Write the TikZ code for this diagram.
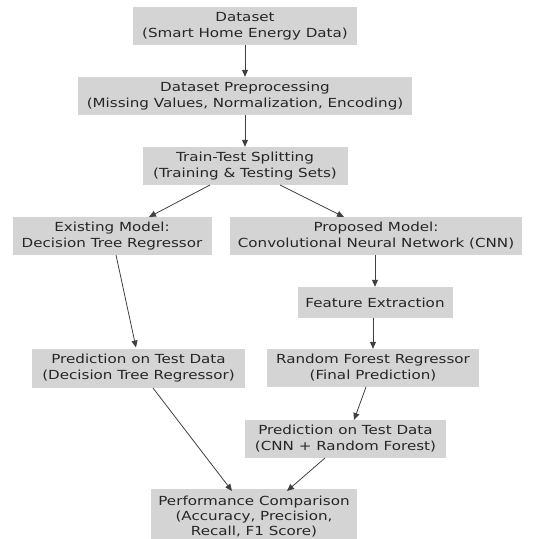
\documentclass[tikz,border=0pt]{standalone}
\usepackage{fontspec}
\setmainfont[FakeStretch=1.21]{DejaVu Sans}
\usetikzlibrary{arrows.meta}
\begin{document}
\begin{tikzpicture}[x=1pt,y=-1pt,
  box/.style={fill=black!17, draw=none, inner sep=0pt, align=center,
    font=\fontsize{12.5}{16}\selectfont, text=black!85},
  arr/.style={-{Triangle[length=7pt,width=6pt]}, line width=0.8pt, draw=black!75}]
\useasboundingbox (0,0) rectangle (542,539);
\begin{scope}
\clip (0,0) rectangle (542,539);
\node[box, minimum width=224pt, minimum height=38pt] (ds) at (245,26) {Dataset\\(Smart Home Energy Data)};
\node[box, minimum width=334pt, minimum height=38pt] (pre) at (245,96) {Dataset Preprocessing\\(Missing Values, Normalization, Encoding)};
\node[box, minimum width=205pt, minimum height=38pt] (tt) at (245,166) {Train-Test Splitting\\(Training \& Testing Sets)};
\node[box, minimum width=199pt, minimum height=38pt] (ex) at (112,236) {Existing Model:\\Decision Tree Regressor};
\node[box, minimum width=292pt, minimum height=38pt] (pr) at (376,236) {Proposed Model:\\Convolutional Neural Network (CNN)};
\node[box, minimum width=155pt, minimum height=31pt] (fe) at (375,302.5) {Feature Extraction};
\node[box, minimum width=213pt, minimum height=39pt] (pdt) at (138.5,368) {Prediction on Test Data\\(Decision Tree Regressor)};
\node[box, minimum width=212pt, minimum height=38pt] (rf) at (373,368) {Random Forest Regressor\\(Final Prediction)};
\node[box, minimum width=201pt, minimum height=38pt] (pcnn) at (345.5,439) {Prediction on Test Data\\(CNN + Random Forest)};
\node[box, minimum width=206pt, minimum height=56pt, font=\fontsize{12.5}{15}\selectfont] (perf) at (254,517) {Performance Comparison\\(Accuracy, Precision,\\Recall, F1 Score)};
\end{scope}
\coordinate (a1) at (210,185); \coordinate (a2) at (149,217);
\coordinate (b1) at (280,185); \coordinate (b2) at (344,217);
\coordinate (c1) at (116,255); \coordinate (c2) at (136,347.5);
\coordinate (d1) at (153,388); \coordinate (d2) at (232,491);
\coordinate (e1) at (366,387); \coordinate (e2) at (354,420);
\coordinate (f1) at (325,458); \coordinate (f2) at (287,491);
\draw[arr] (ds) -- (pre);
\draw[arr] (pre) -- (tt);
\draw[arr] (a1) -- (a2);
\draw[arr] (b1) -- (b2);
\draw[arr] (c1) -- (c2);
\draw[arr] (pr.south -| fe.north) -- (fe.north);
\draw[arr] (fe.south -| rf.north) -- (rf.north);
\draw[arr] (d1) -- (d2);
\draw[arr] (e1) -- (e2);
\draw[arr] (f1) -- (f2);
\end{tikzpicture}
\end{document}
